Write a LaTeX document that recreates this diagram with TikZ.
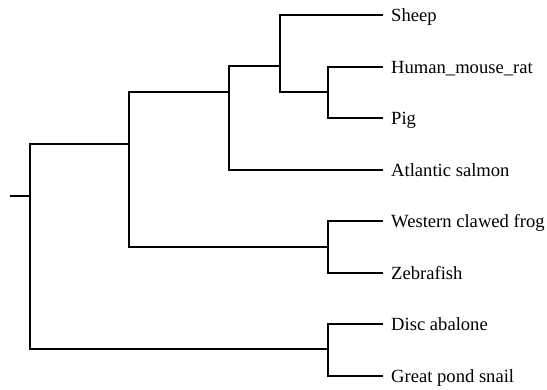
\documentclass[tikz,border=0pt]{standalone}
\usepackage{fontspec}
\setmainfont{Liberation Serif}
\begin{document}
\begin{tikzpicture}[x=1pt,y=-1pt,
  branch/.style={draw=black,line width=2pt},
  leaf/.style={anchor=west,inner xsep=8pt,inner ysep=0pt,text height=17pt,text depth=4pt,
    font=\fontsize{18.6}{22}\selectfont}]
\useasboundingbox (0,0) rectangle (547,389);
% leaves
\node[leaf] (sheep) at (383,15) {Sheep};
\node[leaf] (human) at (383,67) {Human\_mouse\_rat};
\node[leaf] (pig) at (383,118) {Pig};
\node[leaf] (salmon) at (383,170) {Atlantic salmon};
\node[leaf] (frog) at (383,221) {Western clawed frog};
\node[leaf] (zebra) at (383,273) {Zebrafish};
\node[leaf] (abalone) at (383,324) {Disc abalone};
\node[leaf] (snail) at (383,376) {Great pond snail};
% internal nodes
\coordinate (stub) at (10,196);
\coordinate (root) at (30,196);
\coordinate (vert) at (129,144);
\coordinate (fish) at (229,92);
\coordinate (mam) at (280,66);
\coordinate (hp) at (328,92);
\coordinate (wz) at (328,247);
\coordinate (moll) at (328,349);
% branches
\draw[branch] (stub) -- (root);
\draw[branch] (root) |- (vert);
\draw[branch] (root) |- (moll);
\draw[branch] (vert) |- (fish);
\draw[branch] (vert) |- (wz);
\draw[branch] (fish) |- (mam);
\draw[branch] (fish) |- (salmon.west);
\draw[branch] (mam) |- (sheep.west);
\draw[branch] (mam) |- (hp);
\draw[branch] (hp) |- (human.west);
\draw[branch] (hp) |- (pig.west);
\draw[branch] (wz) |- (frog.west);
\draw[branch] (wz) |- (zebra.west);
\draw[branch] (moll) |- (abalone.west);
\draw[branch] (moll) |- (snail.west);
\end{tikzpicture}
\end{document}
